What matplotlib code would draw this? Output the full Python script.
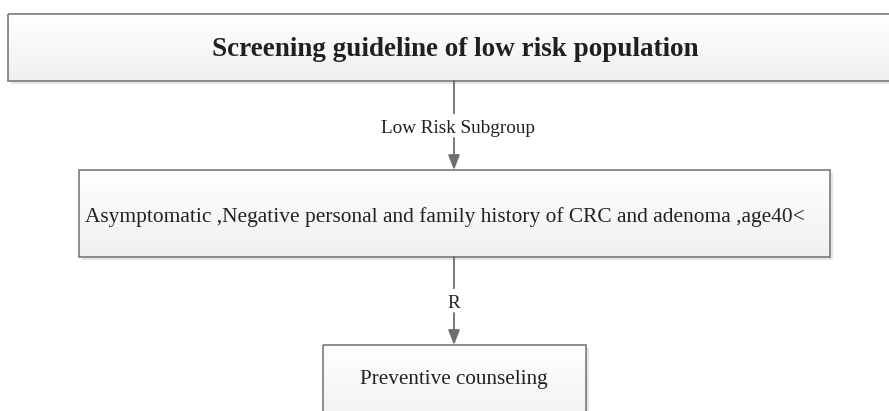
import numpy as np
import matplotlib
matplotlib.use('Agg')
import matplotlib.pyplot as plt
from matplotlib.patches import Rectangle
from matplotlib.colors import LinearSegmentedColormap

# Flowchart content
box_labels = [
    'Screening guideline of low risk population',
    'Asymptomatic ,Negative personal and family history of CRC and adenoma ,age40<',
    'Preventive counseling',
]
edge_labels = ['Low Risk Subgroup', 'R']

# box geometry in pixel coords (left, top, right, bottom)
boxes = [(8, 14, 895, 81), (79, 170, 830, 257), (323, 345, 586, 430)]
text_x = [455, 445, 454]
text_y = [49, 217, 379]
text_size = [19.5, 15.4, 15.2]
text_weight = ['bold', 'normal', 'normal']
edge_label_y = [128, 303]
edge_label_x = [458, 454]
cx = 454

plt.rcParams['font.family'] = ['Liberation Serif', 'DejaVu Serif']

fig = plt.figure(figsize=(8.89, 4.11), dpi=100)
ax = fig.add_axes([0, 0, 1, 1])
ax.set_xlim(0, 889)
ax.set_ylim(411, 0)
ax.axis('off')

cmap = LinearSegmentedColormap.from_list('g', ['#ffffff', '#eff0f2'])
grad = np.linspace(0, 1, 64).reshape(-1, 1)
for (l, t, r, b), txt, tx, ty, fs, fw in zip(boxes, box_labels, text_x, text_y,
                                             text_size, text_weight):
    # drop shadow
    ax.add_patch(Rectangle((l + 3, t + 3), r - l, b - t, facecolor='#e4e5e7',
                           edgecolor='none', zorder=1))
    # gradient fill
    im = ax.imshow(grad, cmap=cmap, extent=(l, r, b, t), aspect='auto', zorder=2)
    rect = Rectangle((l, t), r - l, b - t, facecolor='none', edgecolor='#7a7a7a',
                     linewidth=1.2, zorder=3)
    ax.add_patch(rect)
    im.set_clip_path(rect)
    ax.text(tx, ty, txt, ha='center', va='center', fontsize=fs, fontweight=fw,
            color='#231f20', zorder=4)

# connectors
for i, lab in enumerate(edge_labels):
    y0 = boxes[i][3]
    y1 = boxes[i + 1][1]
    ly = edge_label_y[i]
    ax.plot([cx, cx], [y0, ly - 15], color='#6d6e71', lw=1.3, zorder=3)
    ax.annotate('', xy=(cx, y1), xytext=(cx, ly + 10),
                arrowprops=dict(arrowstyle='-|>,head_length=0.9,head_width=0.35',
                                color='#6d6e71', lw=1.3, shrinkA=0, shrinkB=0), zorder=3)
    ax.text(edge_label_x[i], ly, lab, ha='center', va='center', fontsize=13.8,
            color='#231f20')

fig.savefig('out.png', dpi=100, facecolor='white')
